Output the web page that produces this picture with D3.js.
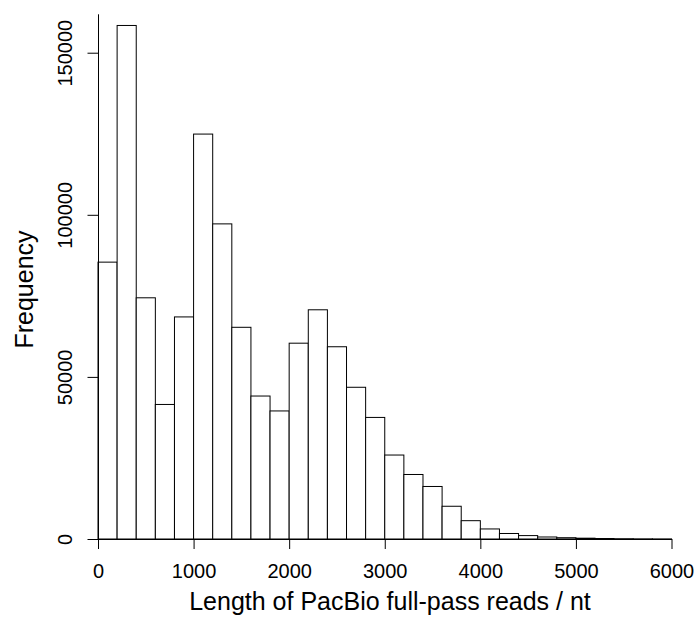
<!DOCTYPE html>
<html>
<head>
<meta charset="utf-8">
<script src="https://cdn.jsdelivr.net/npm/d3@7"></script>
<style>
  body { margin: 0; background: #fff; }
  text { font-family: "Liberation Sans", Arial, Helvetica, sans-serif; fill: #000; }
</style>
</head>
<body>
<script>
// histogram of PacBio full-pass read lengths, 200 nt bins
var binStarts = [0, 200, 400, 600, 800, 1000, 1200, 1400, 1600, 1800,
                 2000, 2200, 2400, 2600, 2800, 3000, 3200, 3400, 3600, 3800,
                 4000, 4200, 4400, 4600, 4800, 5000, 5200, 5400, 5600, 5800];
var counts = [85400, 158400, 74400, 41500, 68500, 124900, 97200, 65300, 44100, 39500,
              60400, 70700, 59300, 46800, 37500, 25900, 19900, 16200, 10100, 5650,
              3100, 1700, 1050, 620, 400, 250, 150, 90, 50, 30];
var binWidth = 200;
var xTicks = [0, 1000, 2000, 3000, 4000, 5000, 6000];
var yTicks = [0, 50000, 100000, 150000];

var width = 696, height = 619;

//scales
var x = d3.scaleLinear()
        .domain([0, 6000])
        .range([98, 671.5]);

var y = d3.scaleLinear()
        .domain([0, 162000])
        .range([539, 13.8]);

var svg = d3.select("body").append("svg")
        .attr("width", width)
        .attr("height", height);

// bars
svg.selectAll(".bar")
    .data(binStarts)
    .enter().append("rect")
    .attr("class", "bar")
    .attr("x", function(d){ return x(d); })
    .attr("width", function(d){ return x(d + binWidth) - x(d); })
    .attr("y", function(d, i){ return y(counts[i]); })
    .attr("height", function(d, i){ return y(0) - y(counts[i]); })
    .attr("fill", "#fff")
    .attr("stroke", "#000")
    .attr("stroke-width", 1);

// x axis
var xAxis = svg.append("g")
    .attr("transform", "translate(0," + y(0) + ")")
    .call(d3.axisBottom(x).tickValues(xTicks).tickSize(10).tickSizeOuter(0).tickFormat(d3.format("d")));
xAxis.selectAll("path, line").attr("stroke", "#000").attr("stroke-width", 1);
xAxis.selectAll("text")
    .style("font-size", "20px")
    .attr("y", 39.3)
    .attr("dy", 0);

// y axis
var yAxis = svg.append("g")
    .attr("transform", "translate(" + x(0) + ",0)")
    .call(d3.axisLeft(y).tickValues(yTicks).tickSize(10.5).tickSizeOuter(0).tickFormat(d3.format("d")));
yAxis.selectAll("path, line").attr("stroke", "#000").attr("stroke-width", 1);
yAxis.selectAll("text")
    .style("font-size", "20px")
    .attr("x", null)
    .attr("dy", 0)
    .attr("text-anchor", "middle")
    .attr("transform", "translate(-26.3,0) rotate(-90)");

// axis titles
svg.append("text")
    .attr("x", 390)
    .attr("y", 610)
    .attr("text-anchor", "middle")
    .style("font-size", "25px")
    .text("Length of PacBio full-pass reads / nt");

svg.append("text")
    .attr("transform", "translate(33,289.5) rotate(-90)")
    .attr("text-anchor", "middle")
    .style("font-size", "25px")
    .text("Frequency");
</script>
</body>
</html>
